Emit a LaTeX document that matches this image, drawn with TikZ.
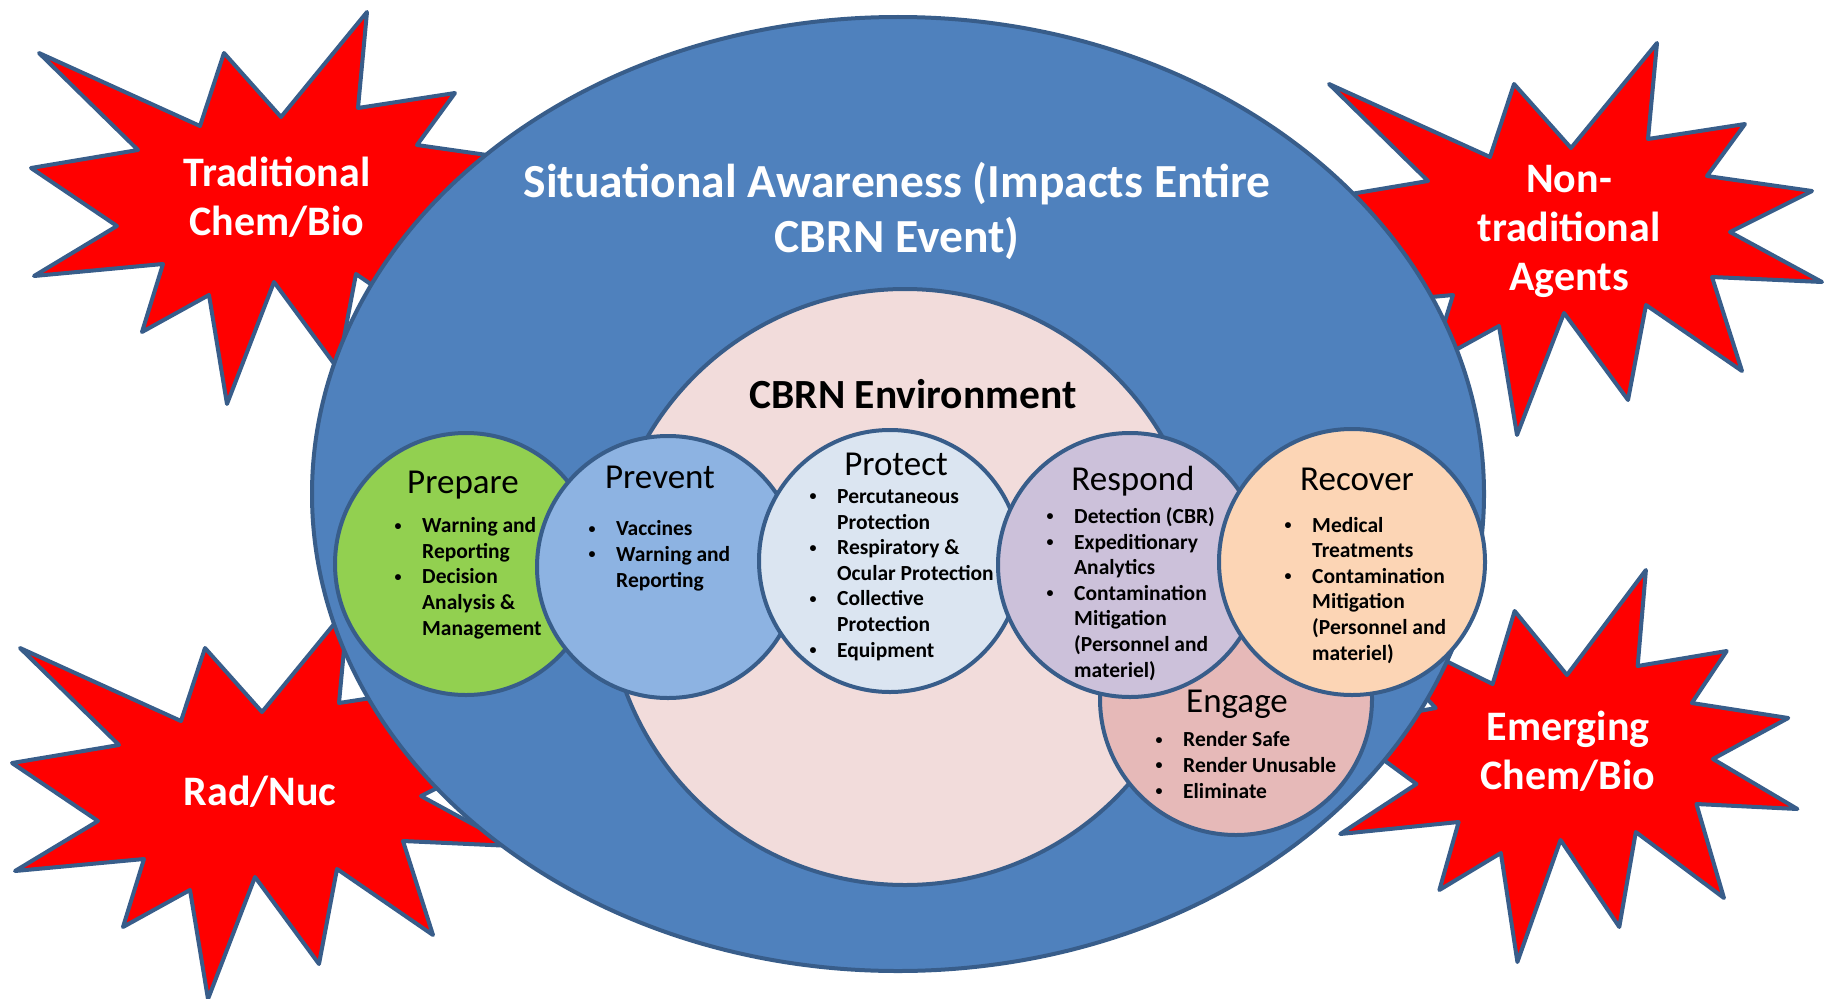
\documentclass[tikz,border=0pt]{standalone}
\usepackage{fontspec}
\setmainfont{Carlito}
\usetikzlibrary{positioning,shapes.geometric}
\definecolor{outline}{RGB}{56,93,138}
\definecolor{awareblue}{RGB}{79,129,189}
\definecolor{envpink}{RGB}{242,220,219}
\definecolor{prepgreen}{RGB}{146,208,80}
\definecolor{prevblue}{RGB}{141,179,226}
\definecolor{protblue}{RGB}{219,229,241}
\definecolor{resplilac}{RGB}{204,193,218}
\definecolor{recpeach}{RGB}{252,213,181}
\definecolor{engrose}{RGB}{230,185,184}
\definecolor{burstred}{RGB}{255,0,0}
\tikzset{
  burst/.style={draw=outline,line width=4pt,fill=burstred,line join=round},
  phase/.style={circle,draw=outline,line width=4pt,minimum size=262pt,inner sep=0pt},
  phasetitle/.style={anchor=base,inner sep=0pt,font=\fontsize{35}{42}\selectfont},
  phaselist/.style={anchor=base west,align=left,inner sep=0pt,font=\bfseries\fontsize{21.5}{25.6}\selectfont},
  threat/.style={anchor=base,align=center,inner sep=0pt,text=white,font=\bfseries\fontsize{42}{49}\selectfont},
}
\newcommand{\bul}{\makebox[29.5pt][l]{\hspace*{2pt}\raisebox{2.5pt}{\fontsize{14}{14}\selectfont\textbullet}}}
\newcommand{\ind}{\hspace*{29.5pt}}

\begin{document}
\begin{tikzpicture}[x=1pt,y=-1pt]
\useasboundingbox (0,0) rectangle (1835,998);
% threats
\foreach \sx/\sy/\xs in {0/0/1,1290/31/1,-19/595/1,1309/558/0.918}
  \draw[burst,shift={(\sx,\sy)},xscale=\xs] (39,53) -- (200,126) -- (224,53) -- (281,117) -- (367,12)
    -- (358,108) -- (455,93) -- (417,145) -- (522,160) -- (440,201) -- (532,251) -- (422,246)
    -- (452,340) -- (356,274) -- (338,369) -- (274,282) -- (227,404) -- (209,295) -- (142,332)
    -- (163,264) -- (34,276) -- (117,226) -- (31,168) -- (138,150) -- cycle;
\node[ellipse,draw=outline,line width=4pt,fill=awareblue,minimum width=1172pt,minimum height=954pt] (aware) at (898,494) {};
\node[phase,fill=envpink,minimum size=596pt] (env) at (905,587) {};
\node[phase,fill=prepgreen] (prepare) at (466,564) {};
\node[phase,fill=prevblue] (prevent) at (668,567) {};
\node[phase,fill=protblue] (protect) at (890,561) {};
\node[phase,fill=engrose,minimum size=272pt] (engage) at (1236,699) {};
\node[phase,fill=resplilac,minimum size=264pt] (respond) at (1130,565) {};
\node[phase,fill=recpeach,minimum size=266pt] (recover) at (1352,562) {};

% multi-line texts sit on their last baseline
\node[anchor=base,align=center,inner sep=0pt,text=white,font=\bfseries\fontsize{47.5}{55}\selectfont] (awaretitle) at (897,252) {Situational Awareness (Impacts Entire\\CBRN Event)};
\node[anchor=base,inner sep=0pt,font=\bfseries\fontsize{41.5}{48}\selectfont] (envtitle) at (913,408) {CBRN Environment};

\node[threat] (tradtext) at (277,235) {Traditional\\Chem/Bio};
\node[threat] (nontradtext) at (1569,290) {Non-\\traditional\\Agents};
\node[threat] (radtext) at (260,805) {Rad/Nuc};
\node[threat] (emergtext) at (1568,789) {Emerging\\Chem/Bio};

\node[phasetitle] (preptitle) at (463,493) {Prepare};
\node[phaselist] (preplist) at (392.5,635) {\bul Warning and\\\ind Reporting\\\bul Decision\\\ind Analysis \&\\\ind Management};
\node[phasetitle] (prevtitle) at (660,488) {Prevent};
\node[phaselist] (prevlist) at (586.5,587) {\bul Vaccines\\\bul Warning and\\\ind Reporting};
\node[phasetitle] (prottitle) at (896,475) {Protect};
\node[phaselist] (protlist) at (807.5,657) {\bul Percutaneous\\\ind Protection\\\bul Respiratory \&\\\ind Ocular Protection\\\bul Collective\\\ind Protection\\\bul Equipment};
\node[phasetitle] (resptitle) at (1133,490) {Respond};
\node[phaselist] (resplist) at (1044.5,677) {\bul Detection (CBR)\\\bul Expeditionary\\\ind Analytics\\\bul Contamination\\\ind Mitigation\\\ind (Personnel and\\\ind materiel)};
\node[phasetitle] (rectitle) at (1357,490) {Recover};
\node[phaselist] (reclist) at (1282.5,660) {\bul Medical\\\ind Treatments\\\bul Contamination\\\ind Mitigation\\\ind (Personnel and\\\ind materiel)};
\node[phasetitle] (engtitle) at (1237,712) {Engage};
\node[phaselist] (englist) at (1153.5,798) {\bul Render Safe\\\bul Render Unusable\\\bul Eliminate};
\end{tikzpicture}
\end{document}
